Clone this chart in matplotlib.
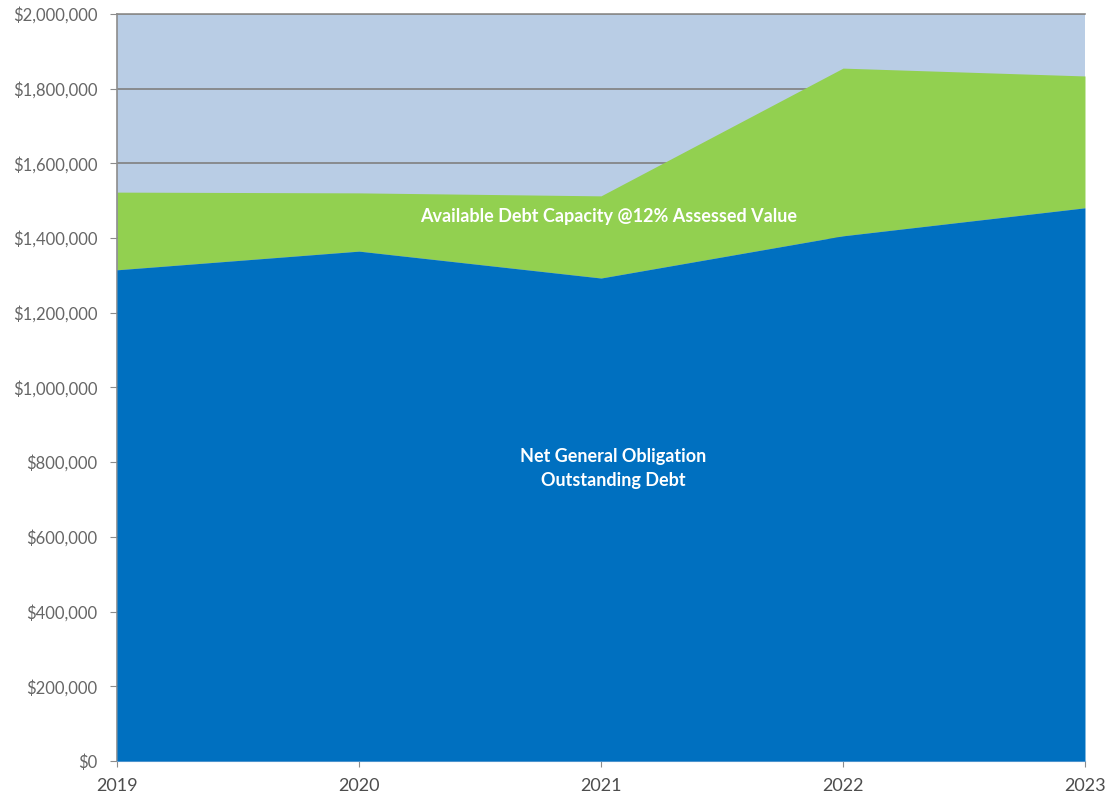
import matplotlib
matplotlib.use("Agg")
import matplotlib.pyplot as plt
from matplotlib.ticker import FuncFormatter

years = [2019, 2020, 2021, 2022, 2023]
net_debt = [1315000, 1365000, 1293000, 1406000, 1481000]
debt_limit = [1523000, 1521000, 1513000, 1855000, 1834000]
y_ticks = list(range(0, 2000001, 200000))

plt.rcParams['font.family'] = ['Lato', 'DejaVu Sans']

fig = plt.figure(figsize=(11.06, 7.98), dpi=100)
ax = fig.add_axes([0.1058, 0.0464, 0.8752, 0.9361])
ax.set_facecolor('#B9CDE5')

ax.set_xlim(years[0], years[-1])
ax.set_ylim(0, 2000000)
ax.set_yticks(y_ticks)
ax.set_xticks(years)
ax.yaxis.set_major_formatter(FuncFormatter(lambda v, p: f"${v:,.0f}"))
ax.grid(axis='y', color='#808080', linewidth=1.2, zorder=0)
ax.set_axisbelow(True)

ax.fill_between(years, net_debt, debt_limit, color='#92D050', lw=0, zorder=2)
ax.fill_between(years, 0, net_debt, color='#0070C0', lw=0, zorder=3)

for s in ['left', 'top']:
    ax.spines[s].set_color('#8C8C8C')
    ax.spines[s].set_linewidth(1.2)
ax.spines['right'].set_visible(False)
ax.spines['bottom'].set_color('#8FB4D9')
ax.tick_params(axis='y', colors='#8C8C8C', labelcolor='#666666', labelsize=12, length=5, pad=9)
ax.tick_params(axis='x', colors='#8C8C8C', labelcolor='#4D4D4D', labelsize=13, length=4, pad=8)

ax.text(2021.03, 1459000, 'Available Debt Capacity @12% Assessed Value', color='white',
        fontsize=13, fontweight='bold', ha='center', va='center', zorder=5)
ax.text(2021.05, 784000, 'Net General Obligation\nOutstanding Debt', color='white',
        fontsize=13, fontweight='bold', ha='center', va='center', linespacing=1.5, zorder=5)

fig.savefig('out.png', dpi=100)
